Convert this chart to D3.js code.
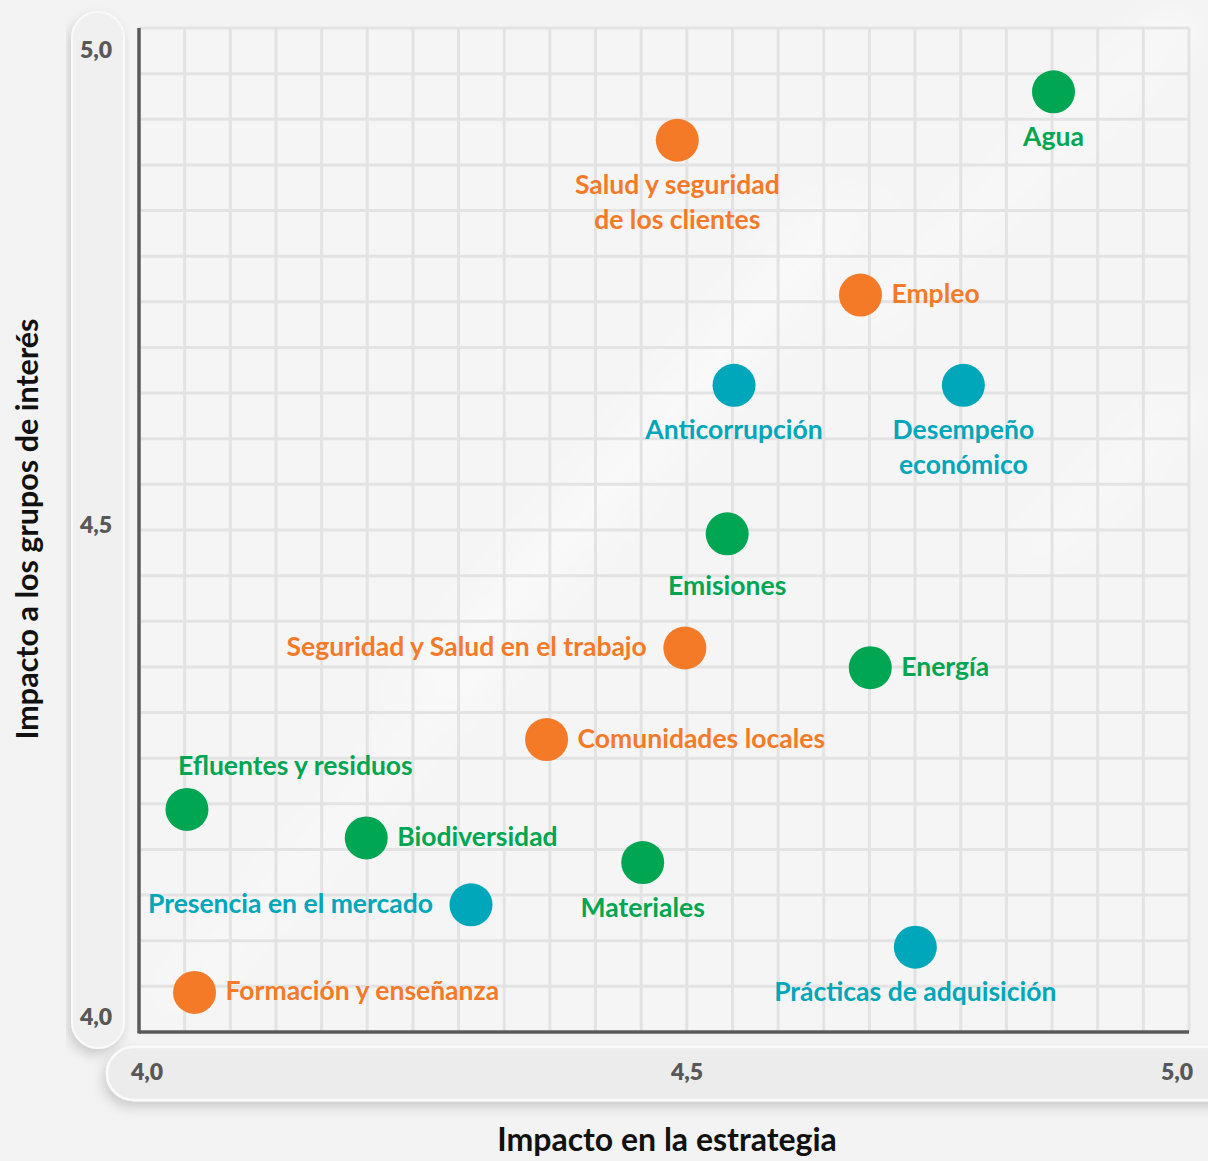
<!DOCTYPE html>
<html>
<head>
<meta charset="utf-8">
<script src="https://cdn.jsdelivr.net/npm/d3@7"></script>
<style>
  html, body { margin: 0; padding: 0; background: #f3f3f3; }
  svg { display: block; }
  text { font-family: Lato, "Open Sans", "Noto Sans", sans-serif; }
</style>
</head>
<body>
<div id="chart"></div>
<script>
// ---------- DATA ----------
const categories = [
  "Agua",
  "Salud y seguridad\nde los clientes",
  "Empleo",
  "Anticorrupción",
  "Desempeño\neconómico",
  "Emisiones",
  "Seguridad y Salud en el trabajo",
  "Energía",
  "Comunidades locales",
  "Efluentes y residuos",
  "Biodiversidad",
  "Materiales",
  "Presencia en el mercado",
  "Prácticas de adquisición",
  "Formación y enseñanza"
];
const estrategia = [4.874, 4.491, 4.677, 4.548, 4.782, 4.541, 4.498, 4.687, 4.370, 4.037, 4.203, 4.459, 4.300, 4.733, 4.044];
const gruposInteres = [4.956, 4.905, 4.742, 4.647, 4.647, 4.491, 4.375, 4.355, 4.282, 4.211, 4.182, 4.157, 4.114, 4.071, 4.025];
const dimension = ["ambiental", "social", "social", "economica", "economica", "ambiental", "social", "ambiental", "social", "ambiental", "ambiental", "ambiental", "economica", "economica", "social"];
const labelSide = ["below", "below", "right", "below", "below", "belowFar", "left", "right", "right", "aboveStart", "right", "below", "left", "below", "right"];
const xTicks = [4.0, 4.5, 5.0];
const yTicks = [4.0, 4.5, 5.0];
const tickLabels = ["4,0", "4,5", "5,0"];
const xTitle = "Impacto en la estrategia";
const yTitle = "Impacto a los grupos de interés";

// ---------- LAYOUT ----------
const W = 1208, H = 1161;
const plot = { left: 139, right: 1189, top: 28, bottom: 1032 };
const nCols = 23, nRows = 22;
const colors = { ambiental: "#00a651", social: "#f47a28", economica: "#00a6b9" };

const x = d3.scaleLinear().domain([4, 4.5, 5]).range([147, 687, 1177]);
const y = d3.scaleLinear().domain([4, 4.5, 5]).range([1017, 525, 50]);

const svg = d3.select("#chart").append("svg")
  .attr("width", W).attr("height", H).attr("viewBox", `0 0 ${W} ${H}`);

const defs = svg.append("defs");
const sh = defs.append("filter").attr("id", "pillShadow")
  .attr("x", "-10%").attr("y", "-30%").attr("width", "120%").attr("height", "180%");
sh.append("feDropShadow").attr("dx", -3).attr("dy", 6).attr("stdDeviation", 6)
  .attr("flood-color", "#000").attr("flood-opacity", 0.16);
const blur = defs.append("filter").attr("id", "soft").attr("x", "-50%").attr("y", "-50%").attr("width", "200%").attr("height", "200%");
blur.append("feGaussianBlur").attr("stdDeviation", 18);

// background
svg.append("rect").attr("width", W).attr("height", H).attr("fill", "#f3f3f3");
const streaks = [
  [[380, 700], [470, 700], [900, 200], [810, 200]],
  [[820, 330], [880, 330], [1208, 20], [1160, 20]],
  [[150, 1000], [200, 1000], [520, 650], [470, 650]],
  [[1000, 560], [1060, 560], [1208, 400], [1160, 400]]
];
svg.append("g").selectAll("polygon").data(streaks).join("polygon")
  .attr("points", d => d.map(p => p.join(",")).join(" "))
  .attr("fill", "#ffffff").attr("opacity", 0.75).attr("filter", "url(#soft)");

// pills
svg.append("rect").attr("x", 72).attr("y", 12).attr("width", 52).attr("height", 1036)
  .attr("rx", 26).attr("fill", "#f0f0f0").attr("stroke", "#fafafa").attr("stroke-width", 2)
  .attr("filter", "url(#pillShadow)");
svg.append("rect").attr("x", 107).attr("y", 1047).attr("width", 1140).attr("height", 53)
  .attr("rx", 26.5).attr("fill", "#ececec").attr("stroke", "#fafafa").attr("stroke-width", 2.5)
  .attr("filter", "url(#pillShadow)");

// plot background
svg.append("rect").attr("x", plot.left).attr("y", plot.top)
  .attr("width", plot.right - plot.left).attr("height", plot.bottom - plot.top)
  .attr("fill", "#f6f6f6").attr("opacity", 0.55);

// grid
const cw = (plot.right - plot.left) / nCols, chh = (plot.bottom - plot.top) / nRows;
const grid = svg.append("g").attr("stroke", "#e3e3e3").attr("stroke-width", 3);
grid.selectAll("line.v").data(d3.range(1, nCols + 1)).join("line").attr("class", "v")
  .attr("x1", i => plot.left + i * cw).attr("x2", i => plot.left + i * cw)
  .attr("y1", plot.top).attr("y2", plot.bottom);
grid.selectAll("line.h").data(d3.range(0, nRows)).join("line").attr("class", "h")
  .attr("y1", i => plot.top + i * chh).attr("y2", i => plot.top + i * chh)
  .attr("x1", plot.left).attr("x2", plot.right);

// axis lines
svg.append("line").attr("x1", plot.left).attr("x2", plot.left).attr("y1", plot.top).attr("y2", plot.bottom + 1.5)
  .attr("stroke", "#5a5a5a").attr("stroke-width", 3.5);
svg.append("line").attr("x1", plot.left).attr("x2", plot.right).attr("y1", plot.bottom).attr("y2", plot.bottom)
  .attr("stroke", "#5a5a5a").attr("stroke-width", 3.5);

// tick labels
svg.append("g").selectAll("text").data(xTicks).join("text")
  .attr("x", d => x(d)).attr("y", 1080).attr("text-anchor", "middle")
  .attr("font-size", 23).attr("font-weight", 800).attr("fill", "#585858")
  .text((d, i) => tickLabels[i]);
svg.append("g").selectAll("text").data(yTicks).join("text")
  .attr("x", 96).attr("y", d => y(d) + 8).attr("text-anchor", "middle")
  .attr("font-size", 23).attr("font-weight", 800).attr("fill", "#585858")
  .text((d, i) => tickLabels[i]);

// titles
svg.append("text").attr("x", 667).attr("y", 1151).attr("text-anchor", "middle")
  .attr("font-size", 32).attr("font-weight", 700).attr("fill", "#111").text(xTitle);
svg.append("text").attr("transform", "translate(38,529) rotate(-90)").attr("text-anchor", "middle")
  .attr("font-size", 30.5).attr("font-weight", 700).attr("fill", "#111").text(yTitle);

// points
const pts = categories.map((c, i) => ({ name: c, x: estrategia[i], y: gruposInteres[i], dim: dimension[i], side: labelSide[i] }));
const g = svg.append("g");
g.selectAll("circle").data(pts).join("circle")
  .attr("cx", d => x(d.x)).attr("cy", d => y(d.y)).attr("r", 21.5)
  .attr("fill", d => colors[d.dim]);

const lh = 35;
const lab = g.selectAll("text.lab").data(pts).join("text").attr("class", "lab")
  .attr("font-size", 26.5).attr("font-weight", 700)
  .attr("fill", d => colors[d.dim])
  .attr("text-anchor", d => d.side.startsWith("below") ? "middle" : (d.side === "left" ? "end" : "start"))
  .attr("x", d => {
    const cx = x(d.x);
    if (d.side.startsWith("below")) return cx;
    if (d.side === "right") return cx + 31;
    if (d.side === "left") return cx - 38;
    return cx - 9;
  })
  .attr("y", d => {
    const cy = y(d.y);
    if (d.side === "below") return cy + 54;
    if (d.side === "belowFar") return cy + 61;
    if (d.side === "aboveStart") return cy - 34;
    return cy + 8;
  });
lab.each(function(d) {
  const t = d3.select(this);
  const px = t.attr("x");
  d.name.split("\n").forEach((line, k) => {
    t.append("tspan").attr("x", px).attr("dy", k === 0 ? 0 : lh).text(line);
  });
});
</script>
</body>
</html>
